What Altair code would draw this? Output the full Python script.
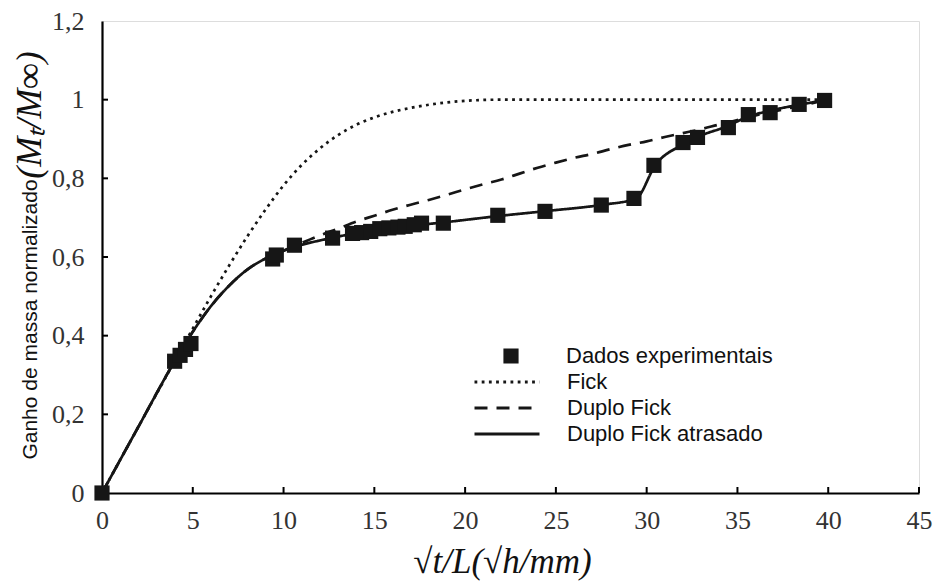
import altair as alt
import pandas as pd

# ---------------- data ----------------
exp_x = [0, 4.0, 4.3, 4.6, 4.9, 9.4, 9.6, 10.6, 12.7, 13.8, 14.3, 14.8, 15.3,
         15.8, 16.3, 16.7, 17.2, 17.6, 18.8, 21.8, 24.4, 27.5, 29.3, 30.4,
         32.0, 32.8, 34.5, 35.6, 36.8, 38.4, 39.8]
exp_y = [0, 0.335, 0.35, 0.365, 0.38, 0.595, 0.605, 0.63, 0.648, 0.66, 0.662,
         0.665, 0.672, 0.674, 0.676, 0.678, 0.682, 0.686, 0.686, 0.706, 0.716,
         0.732, 0.749, 0.833, 0.891, 0.904, 0.929, 0.962, 0.967, 0.988, 0.998]

fick_x = [0, 2, 4, 5, 6, 7, 8, 9, 10, 11, 12, 13, 14, 15, 16, 17, 18, 19, 20,
          22, 25, 30, 35, 40]
fick_y = [0, 0.168, 0.335, 0.418, 0.5, 0.578, 0.652, 0.72, 0.782, 0.834, 0.876,
          0.91, 0.936, 0.955, 0.969, 0.979, 0.987, 0.993, 0.997, 1.0, 1.0, 1.0,
          1.0, 1.0]

duplo_x = [0, 2, 4, 5, 6, 7, 8, 9, 10, 11, 12, 13, 14, 15, 16, 17, 18, 19, 20,
           21, 22, 23, 24, 25, 26, 27, 28, 29, 30, 31, 32, 33, 34, 35, 36, 37,
           38, 39, 40]
duplo_y = [0, 0.168, 0.335, 0.41, 0.475, 0.527, 0.568, 0.596, 0.616, 0.636,
           0.655, 0.672, 0.69, 0.705, 0.72, 0.733, 0.745, 0.758, 0.772, 0.785,
           0.797, 0.812, 0.827, 0.84, 0.852, 0.862, 0.874, 0.885, 0.894, 0.905,
           0.915, 0.925, 0.937, 0.948, 0.96, 0.97, 0.98, 0.99, 1.0]

atras_x = [0, 2, 4, 5, 6, 7, 8, 9, 10, 11, 12, 13, 14, 15, 16, 17, 18, 19, 22,
           24.5, 27.6, 29.4, 30.5, 32.1, 32.8, 34.4, 35.6, 36.8, 38.5, 40]
atras_y = [0, 0.168, 0.335, 0.41, 0.475, 0.527, 0.568, 0.596, 0.616, 0.631,
           0.642, 0.652, 0.66, 0.667, 0.673, 0.679, 0.684, 0.689, 0.705, 0.717,
           0.733, 0.748, 0.835, 0.888, 0.905, 0.932, 0.957, 0.972, 0.988, 1.0]

series_names = ["Fick", "Duplo Fick", "Duplo Fick atrasado"]
point_label = "Dados experimentais"

x_tick_values = [0, 5, 10, 15, 20, 25, 30, 35, 40, 45]
y_tick_values = [0, 0.2, 0.4, 0.6, 0.8, 1.0, 1.2]
x_inner_ticks = [5, 10, 15, 20, 25, 30, 35, 40, 45]
y_inner_ticks = [0.2, 0.4, 0.6, 0.8, 1.0]

x_title = "√t/L(√h/mm)"
y_title = "Ganho de massa normalizado"
y_title_math = "(Mₜ/M∞)"

# ---------------- tables ----------------
lines_df = pd.concat([
    pd.DataFrame({"x": fick_x, "y": fick_y, "serie": series_names[0]}),
    pd.DataFrame({"x": duplo_x, "y": duplo_y, "serie": series_names[1]}),
    pd.DataFrame({"x": atras_x, "y": atras_y, "serie": series_names[2]}),
], ignore_index=True)

pts_df = pd.DataFrame({"x": exp_x, "y": exp_y, "serie": point_label})
xt_df = pd.DataFrame({"v": x_inner_ticks})
yt_df = pd.DataFrame({"v": y_inner_ticks})
math_df = pd.DataFrame({"t": [y_title_math]})

W, H = 817, 472
INK = "#161616"
SERIF = "Liberation Serif"
SANS = "Liberation Sans"

xs = alt.Scale(domain=[0, 45], nice=False, zero=False)
ys = alt.Scale(domain=[0, 1.2], nice=False)

x_axis = alt.Axis(
    values=x_tick_values, title=x_title, grid=False,
    domainColor="#000", domainWidth=2.2, ticks=False, tickSize=0,
    labelFont=SERIF, labelFontSize=26, labelColor="#333", labelPadding=14,
    labelFlush=False, labelOverlap=False,
    titleFont=SERIF, titleFontSize=35, titleFontStyle="italic",
    titleFontWeight="normal", titleColor="#111",
    titleX=400, titleY=68, titleBaseline="middle", titleAlign="center",
)
y_axis = alt.Axis(
    values=y_tick_values, title=y_title, grid=False,
    domainColor="#000", domainWidth=2.2, ticks=False, tickSize=0,
    labelFont=SERIF, labelFontSize=26, labelColor="#333", labelPadding=18,
    labelFlush=False, labelOverlap=False,
    labelExpr="replace(format(datum.value, '.1~f'), '.', ',')",
    titleFont=SANS, titleFontSize=21, titleFontWeight="normal", titleColor="#111",
    titleAngle=270, titleX=-72, titleY=298, titleAlign="center",
    titleBaseline="middle",
)

lines = alt.Chart(lines_df).mark_line(
    interpolate="monotone", strokeWidth=2.7, color=INK
).encode(
    x=alt.X("x:Q", scale=xs, axis=x_axis),
    y=alt.Y("y:Q", scale=ys, axis=y_axis),
    strokeDash=alt.StrokeDash(
        "serie:N",
        scale=alt.Scale(domain=series_names, range=[[2.8, 4.4], [13, 9], [1, 0]]),
        legend=alt.Legend(
            title=None, orient="none", legendX=371, legendY=348,
            symbolSize=4225, symbolStrokeWidth=2.8, symbolStrokeColor=INK,
            labelFont=SANS, labelFontSize=22, labelColor="#111", labelLimit=0,
            labelOffset=26, clipHeight=26, rowPadding=0, padding=0,
        ),
    ),
)

points = alt.Chart(pts_df).mark_point(
    shape="square", filled=True, size=230, color=INK, opacity=1
).encode(
    x=alt.X("x:Q", scale=xs),
    y=alt.Y("y:Q", scale=ys),
    shape=alt.Shape(
        "serie:N",
        scale=alt.Scale(domain=[point_label], range=["square"]),
        legend=alt.Legend(
            title=None, orient="none", legendX=398, legendY=322,
            symbolSize=230, symbolFillColor=INK, symbolStrokeWidth=0,
            symbolOpacity=1,
            labelFont=SANS, labelFontSize=22, labelColor="#111", labelLimit=0,
            labelOffset=44, clipHeight=26, rowPadding=0, padding=0,
        ),
    ),
)

x_ticks = alt.Chart(xt_df).mark_rule(color="#000", strokeWidth=2).encode(
    x=alt.X("v:Q", scale=xs), y=alt.value(H), y2=alt.value(H - 6)
)
y_ticks = alt.Chart(yt_df).mark_rule(color="#000", strokeWidth=2).encode(
    y=alt.Y("v:Q", scale=ys), x=alt.value(0), x2=alt.value(6)
)

math_title = alt.Chart(math_df).mark_text(
    font=SERIF, fontSize=36, fontStyle="italic", angle=270, color="#111",
    align="center", baseline="middle"
).encode(text="t:N", x=alt.value(-72), y=alt.value(94))

chart = alt.layer(lines, points, x_ticks, y_ticks, math_title).properties(
    width=W, height=H,
    autosize=alt.AutoSizeParams(type="none"),
    padding={"left": 102, "top": 21, "right": 16, "bottom": 94},
).configure_view(stroke=None).configure(background="white")

chart.save("out.html", embed_options={"renderer": "svg", "actions": False})
